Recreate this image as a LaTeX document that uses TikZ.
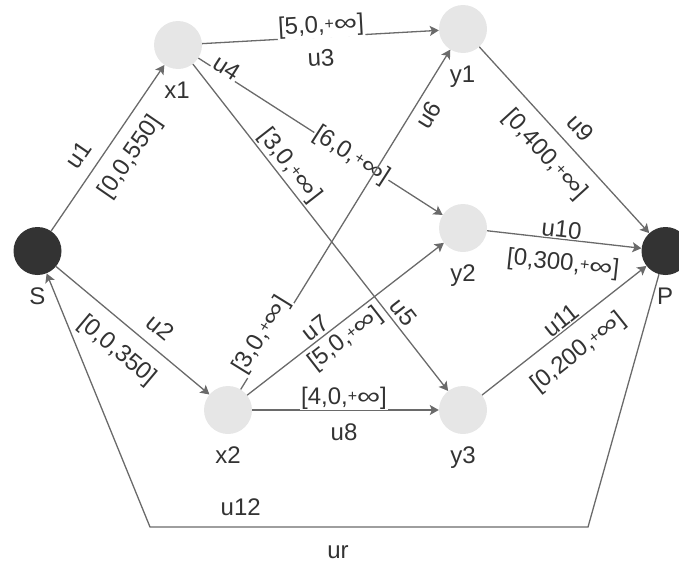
\documentclass[tikz,border=0pt]{standalone}
\usepackage{fontspec}
\setmainfont{Liberation Sans}
\usepackage{graphicx}
\usetikzlibrary{arrows.meta}
\definecolor{edgec}{HTML}{6A6A6A}
\definecolor{txtc}{HTML}{333333}
\definecolor{lightn}{HTML}{E6E6E6}
\definecolor{darkn}{HTML}{333333}
\newcommand\pinf{\raisebox{0.12em}{\fontsize{16}{16}\selectfont +}\scalebox{1.35}[1]{∞}}
\begin{document}
\begin{tikzpicture}[x=1pt,y=-1pt,
  lnode/.style={circle, fill=lightn, minimum size=48pt, inner sep=0pt},
  dnode/.style={circle, fill=darkn, minimum size=48pt, inner sep=0pt},
  conn/.style={draw=edgec, line width=1.3pt, -{Stealth[length=9pt,width=10pt,inset=2pt]}},
  txt/.style={text=txtc, font=\fontsize{24}{28}\selectfont, inner sep=1pt},
  ulab/.style={txt, text height=17.3pt, text depth=0pt, fill=white},
  blab/.style={txt, text height=17.5pt, text depth=5pt, fill=white},
  nlab/.style={txt, anchor=base},
]
\useasboundingbox (0,0) rectangle (679,565);

% nodes
\node[dnode] (S) at (37.5,251) {};
\node[lnode] (x1) at (178,45) {};
\node[lnode] (x2) at (228,410) {};
\node[lnode] (y1) at (463,29) {};
\node[lnode] (y2) at (463,228) {};
\node[lnode] (y3) at (463,410) {};
\node[dnode] (P) at (665.5,251) {};

% node names
\node[nlab] (Sl) at (37.5,304) {S};
\node[nlab] (Pl) at (665,304) {P};
\node[nlab] (x1l) at (177,98) {x1};
\node[nlab] (x2l) at (228,463) {x2};
\node[nlab] (y1l) at (462.5,82) {y1};
\node[nlab] (y2l) at (463,281) {y2};
\node[nlab] (y3l) at (463,463) {y3};

% u1
\draw[conn] (S) -- (x1);
\node[ulab, rotate=55.5] (l1a) at (78,155) {u1};
\node[blab, rotate=55.5] (l1b) at (130.7,157.3) {[0,0,550]};
% u2
\draw[conn] (S) -- (x2);
\node[ulab, rotate=-40] (l2a) at (160.7,327.3) {u2};
\node[blab, rotate=-40] (l2b) at (117.3,350.8) {[0,0,350]};
% u3
\draw[conn] (x1) -- (y1);
\node[blab, rotate=3.2] (l3b) at (321,26) {[5,0,\pinf]};
\node[ulab, rotate=3.2] (l3a) at (321,57.5) {u3};
% u4
\draw[conn] (x1) -- (y2);
\node[ulab, rotate=-32.7] (l4a) at (227,67) {u4};
\node[blab, rotate=-32.7] (l4b) at (351.7,155.8) {[6,0,\pinf]};
% u5
\draw[conn] (x1) -- (y3);
\node[blab, rotate=-52] (l5b) at (289.7,165.7) {[3,0,\pinf]};
\node[ulab, rotate=-52] (l5a) at (404,311.7) {u5};
% u6
\draw[conn] (x2) -- (y1);
\node[ulab, rotate=58.3] (l6a) at (428.3,115) {u6};
\node[blab, rotate=58.3] (l6b) at (261.7,335) {[3,0,\pinf]};
% u7
\draw[conn] (x2) -- (y2);
\node[ulab, rotate=37.8] (l7a) at (315,327.5) {u7};
\node[blab, rotate=37.8] (l7b) at (345.7,339) {[5,0,\pinf]};
% u8
\draw[conn] (x2) -- (y3);
\node[blab] (l8b) at (344,398) {[4,0,\pinf]};
\node[ulab] (l8a) at (344,431.7) {u8};
% u9
\draw[conn] (y1) -- (P);
\node[ulab, rotate=-47.7] (l9a) at (580.7,127.5) {u9};
\node[blab, rotate=-47.7] (l9b) at (545,155) {[0,400,\pinf]};
% u10
\draw[conn] (y2) -- (P);
\node[ulab, rotate=-6.2] (l10a) at (561.7,228.7) {u10};
\node[blab, rotate=-6.2] (l10b) at (563,264) {[0,300,\pinf]};
% u11
\draw[conn] (y3) -- (P);
\node[ulab, rotate=38.5] (l11a) at (560.7,320) {u11};
\node[blab, rotate=38.5] (l11b) at (578.3,352.3) {[0,200,\pinf]};
% u12 / ur
\coordinate (c1) at (588,527);
\coordinate (c2) at (150,527);
\draw[conn] (P) -- (c1) -- (c2) -- (S);
\node[ulab] (l12a) at (240.7,507) {u12};
\node[nlab] (l12b) at (338,558) {ur};
\end{tikzpicture}
\end{document}
